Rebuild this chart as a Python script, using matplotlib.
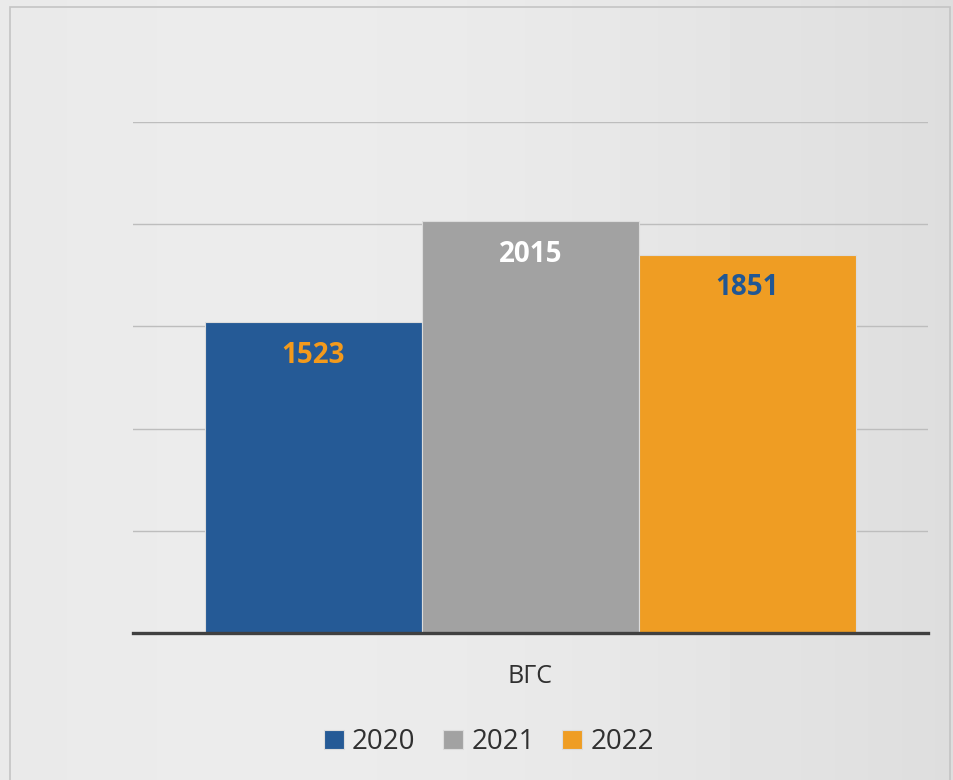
import numpy as np
from matplotlib import pyplot as plt
from matplotlib.patches import Rectangle

##### Data #####
category = "ВГС"
years = ["2020", "2021", "2022"]
values = [1523, 2015, 1851]

bar_colors = ["#255a96", "#a2a2a2", "#ef9d23"]
label_colors = ["#f39a1c", "#ffffff", "#215794"]

plt.rcParams['font.family'] = ['Open Sans', 'DejaVu Sans']

fig = plt.figure(figsize=(9.54, 7.8), dpi=100)
fig.patch.set_facecolor("#e3e3e3")

# soft grey gradient background
bg = fig.add_axes([0, 0, 1, 1], zorder=-10)
xx, yy = np.meshgrid(np.linspace(0, 1, 200), np.linspace(0, 1, 200))
grad = 0.90 + 0.03 * np.sin(xx * 3.0 + 0.5) - 0.02 * xx
bg.imshow(grad, cmap="gray", vmin=0, vmax=1, extent=[0, 1, 0, 1], aspect="auto")
bg.set_axis_off()

# outer frame (runs off the bottom edge)
fig.patches.append(Rectangle((10 / 954, -20 / 780), 940 / 954, 793 / 780,
                             transform=fig.transFigure, fill=False,
                             edgecolor="#c4c4c4", linewidth=1.2))

ax = fig.add_axes([133 / 954, (780 - 633) / 780, 795 / 954, (633 - 122) / 780])
ax.patch.set_alpha(0)

offsets = [-1, 0, 1]
bars = ax.bar(offsets, values, width=1.0, color=bar_colors,
              edgecolor="#dcdcdc", linewidth=0.8, zorder=3)

for x, v, c in zip(offsets, values, label_colors):
    ax.annotate(str(v), (x, v), xytext=(0, -24), textcoords="offset points",
                ha="center", va="center", fontsize=20, fontweight="bold",
                color=c, zorder=4)

ax.set_xlim(-1.832, 1.832)
ax.set_ylim(0, 2500)
ax.set_yticks([0, 500, 1000, 1500, 2000, 2500])
ax.yaxis.grid(True, color="#bdbdbd", linewidth=1, zorder=0)
ax.tick_params(left=False, labelleft=False, bottom=False)
ax.set_xticks([0])
ax.set_xticklabels([category], fontsize=18, color="#303030")
ax.tick_params(axis="x", pad=19)
for s in ["top", "right", "left"]:
    ax.spines[s].set_visible(False)
ax.spines["bottom"].set_color("#404040")
ax.spines["bottom"].set_linewidth(2.4)
ax.spines["bottom"].set_zorder(5)

fig.legend(bars, years, loc="center", bbox_to_anchor=(489 / 954, 38 / 780),
           ncol=3, frameon=False, fontsize=20, handlelength=0.7,
           handleheight=0.7, handletextpad=0.3, columnspacing=1.0,
           labelcolor="#303030")

fig.savefig("out.png", dpi=100, facecolor=fig.get_facecolor())
